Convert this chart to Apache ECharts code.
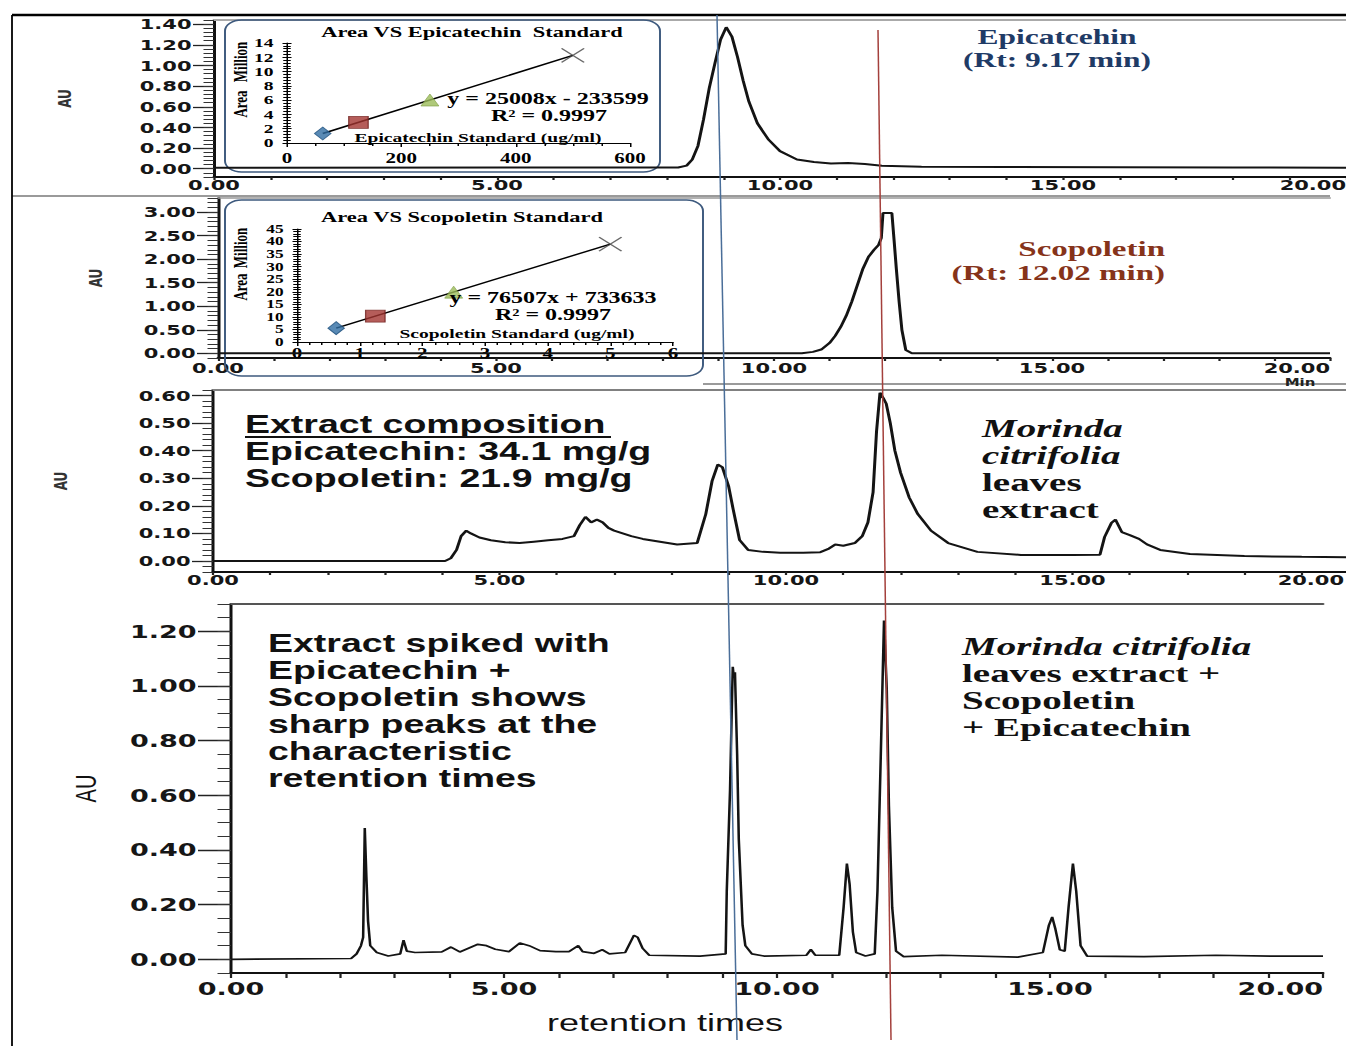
<!DOCTYPE html>
<html><head><meta charset="utf-8">
<script src="https://cdn.jsdelivr.net/npm/echarts@6/dist/echarts.min.js"></script>
<style>
html,body{margin:0;padding:0;background:#fff;overflow:hidden;width:1346px;height:1046px}
#main{width:898px;height:1046px;transform:scaleX(1.5);transform-origin:0 0}
</style></head><body><div id="main"></div>
<script>
// ================= DATA =================
const timeLabels = [0, 5, 10, 15, 20];
const ticksP1 = [0, 0.2, 0.4, 0.6, 0.8, 1.0, 1.2, 1.4];
const ticksP2 = [0, 0.5, 1.0, 1.5, 2.0, 2.5, 3.0];
const ticksP3 = [0, 0.1, 0.2, 0.3, 0.4, 0.5, 0.6];
const ticksP4 = [0, 0.2, 0.4, 0.6, 0.8, 1.0, 1.2];

// Epicatechin standard chromatogram [min, AU]
const epiStdTrace = [[0,0.01],[8.2,0.012],[8.35,0.03],[8.45,0.09],[8.55,0.22],[8.65,0.48],[8.75,0.78],[8.85,1.02],[8.95,1.25],[9.05,1.37],[9.15,1.28],[9.25,1.08],[9.35,0.85],[9.45,0.65],[9.6,0.44],[9.8,0.28],[10.0,0.17],[10.3,0.09],[10.6,0.065],[10.9,0.05],[11.2,0.055],[11.5,0.045],[11.8,0.03],[12.5,0.02],[14,0.016],[16,0.014],[18,0.012],[20,0.01]];
// Scopoletin standard chromatogram
const scoStdTrace = [[0,0],[10.5,0],[10.7,0.03],[10.85,0.08],[11.0,0.22],[11.1,0.37],[11.2,0.56],[11.3,0.8],[11.4,1.1],[11.5,1.45],[11.6,1.8],[11.7,2.05],[11.8,2.2],[11.88,2.3],[11.93,2.45],[11.96,2.98],[12.04,2.98],[12.12,2.98],[12.16,2.4],[12.2,1.8],[12.25,1.1],[12.3,0.5],[12.37,0.07],[12.48,0],[16,0],[20,0]];
// Morinda citrifolia leaves extract
const extractTrace = [[0,0],[4.05,0],[4.15,0.01],[4.25,0.04],[4.33,0.09],[4.42,0.11],[4.5,0.1],[4.65,0.085],[4.85,0.075],[5.1,0.068],[5.35,0.065],[5.6,0.07],[5.85,0.075],[6.1,0.08],[6.3,0.09],[6.4,0.13],[6.5,0.16],[6.6,0.14],[6.7,0.15],[6.8,0.14],[6.9,0.12],[7.0,0.11],[7.15,0.1],[7.3,0.09],[7.5,0.08],[7.8,0.07],[8.1,0.06],[8.45,0.065],[8.6,0.17],[8.71,0.29],[8.81,0.35],[8.89,0.34],[9.0,0.27],[9.08,0.185],[9.19,0.076],[9.34,0.04],[9.6,0.033],[9.9,0.03],[10.3,0.03],[10.6,0.032],[10.75,0.045],[10.86,0.06],[11.0,0.055],[11.2,0.065],[11.33,0.09],[11.43,0.14],[11.52,0.25],[11.58,0.47],[11.64,0.61],[11.7,0.59],[11.75,0.57],[11.82,0.5],[11.9,0.4],[12.0,0.32],[12.15,0.23],[12.3,0.17],[12.53,0.11],[12.83,0.065],[13.34,0.033],[14.1,0.022],[15.0,0.022],[15.48,0.023],[15.56,0.087],[15.68,0.138],[15.75,0.15],[15.86,0.105],[16.0,0.094],[16.16,0.08],[16.3,0.06],[16.53,0.04],[17.05,0.025],[18.0,0.018],[19.0,0.015],[20,0.013]];
// Extract spiked with epicatechin + scopoletin
const spikedTrace = [[0,0],[2.2,0.003],[2.3,0.02],[2.38,0.05],[2.42,0.08],[2.45,0.48],[2.48,0.3],[2.51,0.14],[2.55,0.05],[2.67,0.025],[2.88,0.012],[3.1,0.02],[3.16,0.07],[3.22,0.03],[3.37,0.025],[3.86,0.027],[4.03,0.045],[4.19,0.027],[4.52,0.055],[4.68,0.05],[4.84,0.037],[5.09,0.028],[5.29,0.06],[5.46,0.05],[5.66,0.032],[5.95,0.028],[6.19,0.028],[6.36,0.05],[6.44,0.028],[6.65,0.022],[6.8,0.035],[6.93,0.02],[7.22,0.025],[7.38,0.088],[7.45,0.08],[7.54,0.04],[7.66,0.015],[8.59,0.012],[9.06,0.02],[9.08,0.25],[9.14,0.62],[9.17,0.9],[9.19,1.07],[9.21,1.03],[9.23,1.05],[9.27,0.75],[9.3,0.44],[9.37,0.125],[9.42,0.05],[9.54,0.02],[9.76,0.012],[10.54,0.015],[10.62,0.036],[10.7,0.015],[11.14,0.015],[11.22,0.19],[11.28,0.35],[11.33,0.275],[11.39,0.1],[11.45,0.025],[11.62,0.012],[11.79,0.02],[11.84,0.25],[11.9,0.74],[11.96,1.24],[12.01,0.99],[12.05,0.56],[12.11,0.19],[12.18,0.03],[12.32,0.01],[13.02,0.015],[14.41,0.008],[14.87,0.025],[14.98,0.125],[15.04,0.155],[15.1,0.11],[15.18,0.035],[15.27,0.03],[15.34,0.19],[15.42,0.35],[15.48,0.25],[15.56,0.05],[15.68,0.012],[16.72,0.01],[18.04,0.015],[19.04,0.012],[20,0.012]];

// Calibration insets (area in millions)
const epiCalConc = [62.5, 125, 250, 500];
const epiCalArea = [1.33, 2.89, 6.02, 12.27];
const epiTrend = [[62.5, 1.33], [500, 12.27]];
const scoCalConc = [0.625, 1.25, 2.5, 5];
const scoCalArea = [5.52, 10.3, 19.86, 38.99];
const scoTrend = [[0.625, 5.52], [5, 38.99]];

// ================= LAYOUT / STYLE =================
const S = 1.5;                 // horizontal stretch of the whole figure
const X = p => p / S;          // page px -> chart units
const NONE = {show: false};

function grid(l, t, r, b) {
  return {left: X(l), top: t, width: X(r) - X(l), height: b - t, containLabel: false, outerBoundsMode: 'none'};
}
const grids = [
  grid(214, 20, 1346, 177),
  grid(218, 198, 1330, 358),
  grid(213, 390, 1359, 572),
  grid(231, 604, 1323, 973),
  grid(287, 43, 630, 143),
  grid(297, 229, 673, 342)
];

const smallLbl = {fontFamily: 'DejaVu Sans', fontWeight: 'bold', fontSize: 14, color: '#161616'};
const bigLbl = {fontFamily: 'DejaVu Sans', fontWeight: 'bold', fontSize: 18, color: '#161616'};
const serifLbl = {fontFamily: 'Liberation Serif', fontWeight: 'bold', fontSize: 14, color: '#000'};

function timeX(gi, margin, font, tickLen, lastPad) {
  return {type: 'value', gridIndex: gi, position: 'bottom', min: 0, max: 20, interval: 1,
    axisLine: {show: true, onZero: false, lineStyle: {color: '#111', width: 2}},
    axisTick: {show: true, length: tickLen, lineStyle: {color: '#222', width: 1.5}},
    axisLabel: Object.assign({show: true, customValues: timeLabels, margin: margin, alignMaxLabel: 'right',
      formatter: v => (v === 20 && lastPad) ? '{m|' + v.toFixed(2) + '}' : v.toFixed(2),
      rich: {m: Object.assign({padding: [0, lastPad || 0, 0, 0]}, font)}}, font),
    splitLine: NONE};
}
function topX(gi, color, width) {
  return {type: 'value', gridIndex: gi, position: 'top', min: 0, max: 20,
    axisLine: {show: true, onZero: false, lineStyle: {color: color, width: width}},
    axisTick: NONE, axisLabel: NONE, splitLine: NONE};
}
function majorY(gi, min, max, vals, tickLen, margin, font, nameGap, nameFont) {
  return {type: 'value', gridIndex: gi, position: 'left', min: min, max: max,
    axisLine: {show: true, onZero: false, lineStyle: {color: '#111', width: 2}},
    axisTick: {show: true, customValues: vals, length: tickLen, lineStyle: {color: '#222', width: 1.3}},
    axisLabel: Object.assign({customValues: vals, margin: margin, formatter: v => v.toFixed(2)}, font),
    splitLine: NONE,
    name: 'AU', nameLocation: 'middle', nameRotate: 90, nameGap: nameGap, nameTextStyle: nameFont};
}
function minorY(gi, min, max, step, len) {
  return {type: 'value', gridIndex: gi, position: 'left', min: min, max: max, interval: step,
    axisLine: NONE, axisLabel: NONE, splitLine: NONE,
    axisTick: {show: true, length: len, lineStyle: {color: '#333', width: 1}}};
}
function insetX(gi, max, interval, split, margin) {
  return {type: 'value', gridIndex: gi, position: 'bottom', min: 0, max: max, interval: interval,
    axisLine: {show: true, onZero: false, lineStyle: {color: '#000', width: 1}},
    axisTick: {show: true, length: 4, lineStyle: {color: '#000'}},
    minorTick: {show: true, splitNumber: split, length: 3, lineStyle: {color: '#000'}},
    axisLabel: Object.assign({margin: margin, interval: 0, showMinLabel: true, showMaxLabel: true}, serifLbl), splitLine: NONE};
}
function insetY(gi, max, interval, inner, fs) {
  return {type: 'value', gridIndex: gi, position: 'left', min: 0, max: max, interval: interval,
    axisLine: {show: !inner, onZero: false, lineStyle: {color: '#000', width: 1}},
    axisTick: {show: true, inside: inner, length: 3, lineStyle: {color: '#000'}},
    minorTick: {show: true, splitNumber: 5, length: 2.5, lineStyle: {color: '#000'}},
    axisLabel: inner ? NONE : Object.assign({}, serifLbl, {margin: 9, interval: 0, showMinLabel: true, showMaxLabel: true,
      hideOverlap: false, fontSize: fs, lineHeight: fs}),
    splitLine: NONE};
}

const auSmall = {fontFamily: 'DejaVu Sans', fontWeight: 'bold', fontSize: 12, color: '#333'};
const auBig = {fontFamily: 'Liberation Sans', fontSize: 20, color: '#111'};

const xAxes = [
  timeX(0, 1, smallLbl, 3, 0), topX(0, '#aaaaaa', 2),
  timeX(1, 3, smallLbl, 3, 0), topX(1, '#999999', 1.5),
  timeX(2, 1, smallLbl, 3, 10), topX(2, '#808080', 2),
  timeX(3, 7, bigLbl, 5, 0), topX(3, '#555555', 2),
  insetX(4, 600, 200, 4, 8), insetX(5, 6, 1, 5, 4)
];
const yAxes = [
  majorY(0, -0.08, 1.44, ticksP1, 14, 15, smallLbl, 93, auSmall), minorY(0, -0.08, 1.44, 0.04, 7),
  majorY(1, -0.1, 3.3, ticksP2, 14, 15, smallLbl, 75, auSmall), minorY(1, -0.1, 3.3, 0.1, 7),
  majorY(2, -0.04, 0.62, ticksP3, 14, 15, smallLbl, 95, auSmall), minorY(2, -0.04, 0.62, 0.02, 7),
  majorY(3, -0.05, 1.3, ticksP4, 22, 23, bigLbl, 87, auBig), minorY(3, -0.05, 1.3, 0.05, 9),
  insetY(4, 14, 2, false, 13), insetY(4, 14, 2, true, 13),
  insetY(5, 45, 5, false, 11.5), insetY(5, 45, 5, true, 11.5)
];

const calMarks = [
  {symbol: 'diamond', size: [11, 13], style: {color: '#2F6DA3', borderColor: '#1d4f7c', borderWidth: 0.8}},
  {symbol: 'rect', size: [13, 12], style: {color: '#A33431', borderColor: '#6e1f1d', borderWidth: 0.8}},
  {symbol: 'triangle', size: [12, 12], style: {color: '#9BBB59', borderColor: '#7a9a3c', borderWidth: 0.6}},
  {symbol: 'path://M0,0L10,10M10,0L0,10', size: [15, 14], style: {color: 'rgba(0,0,0,0)', borderColor: '#444', borderWidth: 1.2}}
];
function calData(xs, ys) {
  return xs.map((x, i) => ({value: [x, ys[i]], symbol: calMarks[i].symbol, symbolSize: calMarks[i].size, itemStyle: calMarks[i].style}));
}
function trace(xi, yi, data, width) {
  return {type: 'line', xAxisIndex: xi, yAxisIndex: yi, data: data, showSymbol: false, symbol: 'none',
    silent: true, z: 3, lineStyle: {color: '#141414', width: width}};
}

const series = [
  trace(0, 0, epiStdTrace, 2),
  trace(2, 2, scoStdTrace, 2),
  trace(4, 4, extractTrace, 2),
  trace(6, 6, spikedTrace, 1.7),
  {type: 'line', xAxisIndex: 8, yAxisIndex: 8, data: epiTrend, showSymbol: false, symbol: 'none', silent: true, z: 4, lineStyle: {color: '#000', width: 1.4}},
  {type: 'scatter', xAxisIndex: 8, yAxisIndex: 8, data: calData(epiCalConc, epiCalArea), silent: true, z: 5},
  {type: 'line', xAxisIndex: 9, yAxisIndex: 10, data: scoTrend, showSymbol: false, symbol: 'none', silent: true, z: 4, lineStyle: {color: '#000', width: 1.4}},
  {type: 'scatter', xAxisIndex: 9, yAxisIndex: 10, data: calData(scoCalConc, scoCalArea), silent: true, z: 5}
];

// ---------- graphic annotations ----------
function txt(px, y, text, st, align, extra) {
  return Object.assign({type: 'text', x: X(px), y: y, silent: true, z: 20,
    style: Object.assign({text: text, align: align || 'left', verticalAlign: 'middle'}, st)}, extra || {});
}
function block(px, yTop, lines, rich) {
  return {type: 'text', x: X(px), y: yTop, silent: true, z: 20,
    style: {text: lines.map(l => '{' + l[0] + '|' + l[1] + '}').join('\n'), rich: rich, align: 'left', verticalAlign: 'top'}};
}
function ln(x1, y1, x2, y2, stroke, w, z) {
  return {type: 'line', silent: true, z: z || 10, shape: {x1: X(x1), y1: y1, x2: X(x2), y2: y2}, style: {stroke: stroke, lineWidth: w}};
}
function box(l, t, r, b) {
  return {type: 'rect', silent: true, z: 1, shape: {x: X(l), y: t, width: X(r) - X(l), height: b - t, r: 11},
    style: {fill: 'rgba(0,0,0,0)', stroke: '#3E5A7E', lineWidth: 1.3}};
}
const serifTitle = {fontFamily: 'Liberation Serif', fontWeight: 'bold', fontSize: 15, fill: '#000'};
const serifEq = {fontFamily: 'Liberation Serif', fontWeight: 'bold', fontSize: 16, fill: '#000'};
const serifAx = {fontFamily: 'Liberation Serif', fontWeight: 'bold', fontSize: 13, fill: '#000'};
const serifRot = {fontFamily: 'Liberation Serif', fontWeight: 'bold', fontSize: 13, fill: '#000'};
const blueLbl = {fontFamily: 'Liberation Serif', fontWeight: 'bold', fontSize: 21, fill: '#1F3B66'};
const redLbl = {fontFamily: 'Liberation Serif', fontWeight: 'bold', fontSize: 22, fill: '#86331A'};
const sansB = {fontFamily: 'Liberation Sans', fontWeight: 'bold', fontSize: 25, color: '#111', fill: '#111'};
const serifBI = {fontFamily: 'Liberation Serif', fontWeight: 'bold', fontStyle: 'italic', fontSize: 26, color: '#111', fill: '#111'};
const serifB = {fontFamily: 'Liberation Serif', fontWeight: 'bold', fontSize: 26, color: '#111', fill: '#111'};
const richMorinda = {
  i: Object.assign({lineHeight: 27}, serifBI),
  b: Object.assign({lineHeight: 27}, serifB)
};
const richSans = {s: Object.assign({lineHeight: 27}, sansB)};
const ROT = {rotation: Math.PI / 2};

const graphics = [
  // frame and separators
  ln(12, 15, 1346, 15, '#000', 2.5, 30),
  ln(12, 15, 12, 1046, '#000', 1.2, 30),
  ln(12, 196, 1330, 196, '#9a9a9a', 2),
  ln(703, 384, 1346, 384, '#9a9a9a', 2),
  // inset boxes
  box(225, 20, 660, 172),
  box(225, 200, 703, 376),
  // inset 1 texts
  txt(472, 32, 'Area VS Epicatechin  Standard', serifTitle, 'center'),
  txt(548, 99, 'y = 25008x - 233599', serifEq, 'center'),
  txt(549, 116, 'R\u00B2 = 0.9997', serifEq, 'center'),
  txt(478, 138, 'Epicatechin Standard (ug/ml)', serifAx, 'center'),
  txt(241, 104, 'Area', serifRot, 'center', ROT),
  txt(241, 62, 'Million', serifRot, 'center', ROT),
  // inset 2 texts
  txt(462, 217, 'Area VS Scopoletin Standard', serifTitle, 'center'),
  txt(553, 298, 'y = 76507x + 733633', serifEq, 'center'),
  txt(553, 315, 'R\u00B2 = 0.9997', serifEq, 'center'),
  txt(517, 334, 'Scopoletin Standard (ug/ml)', serifAx, 'center'),
  txt(241, 287, 'Area', serifRot, 'center', ROT),
  txt(241, 248, 'Million', serifRot, 'center', ROT),
  // panel labels
  txt(1057, 37, 'Epicatcehin', blueLbl, 'center'),
  txt(1057, 60, '(Rt: 9.17 min)', blueLbl, 'center'),
  txt(1165, 249, 'Scopoletin', redLbl, 'right'),
  txt(1165, 273, '(Rt: 12.02 min)', redLbl, 'right'),
  txt(1300, 382, 'Min', {fontFamily: 'DejaVu Sans', fontWeight: 'bold', fontSize: 10, fill: '#222'}, 'center'),
  txt(245, 424, 'Extract composition', sansB),
  ln(245, 437, 611, 437, '#111', 2),
  block(245, 437.5, [['s', 'Epicatechin: 34.1 mg/g'], ['s', 'Scopoletin: 21.9 mg/g']], richSans),
  block(982, 414.5, [['i', 'Morinda'], ['i', 'citrifolia'], ['b', 'leaves'], ['b', 'extract']], richMorinda),
  block(268, 629.5, [['s', 'Extract spiked with'], ['s', 'Epicatechin +'], ['s', 'Scopoletin shows'],
    ['s', 'sharp peaks at the'], ['s', 'characteristic'], ['s', 'retention times']], richSans),
  block(962, 632.5, [['i', 'Morinda citrifolia'], ['b', 'leaves extract +'], ['b', 'Scopoletin'], ['b', '+ Epicatechin']], richMorinda),
  txt(665, 1022, 'retention times', {fontFamily: 'Liberation Sans', fontSize: 24, fill: '#111'}, 'center'),
  // retention time guide lines
  ln(717, 15, 737, 1040, '#4A6E99', 1, 50),
  ln(878, 30, 891, 1040, '#A4403C', 1, 50)
];

const chart = echarts.init(document.getElementById('main'), null, {renderer: 'svg'});
chart.setOption({
  animation: false,
  backgroundColor: '#ffffff',
  grid: grids,
  xAxis: xAxes,
  yAxis: yAxes,
  series: series,
  graphic: {elements: graphics}
});
</script></body></html>
